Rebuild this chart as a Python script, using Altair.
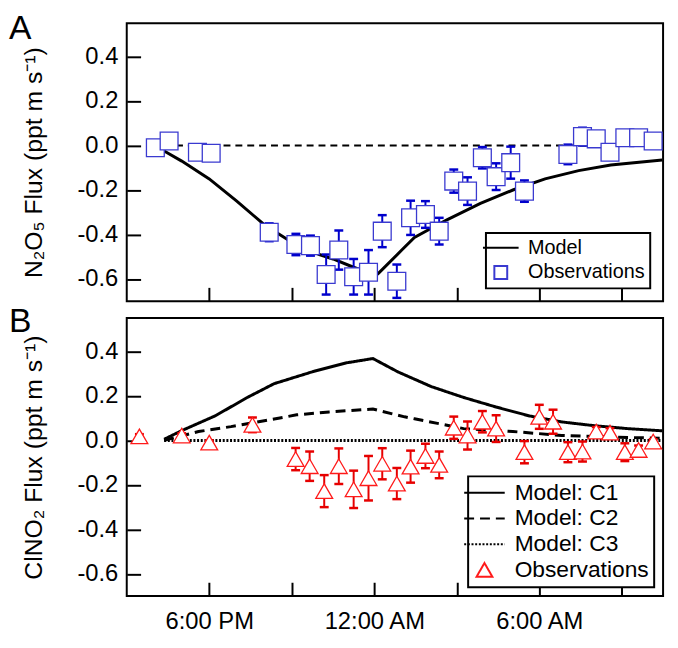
import altair as alt
import pandas as pd

FONT = "Liberation Sans"

# x = hours relative to midnight (negative = previous evening)
X_DOMAIN = [-9.0, 10.5]
Y_DOMAIN = [-0.7, 0.55]
X_TICKS = [-6, -3, 0, 3, 6, 9]
X_LABEL_VALUES = [-6, 0, 6]
X_LABEL_TEXTS = ["6:00 PM", "12:00 AM", "6:00 AM"]
Y_TICKS = [-0.6, -0.4, -0.2, 0.0, 0.2, 0.4]
PANEL_LETTERS = ["A", "B"]

# ---------------- Panel A : N2O5 ----------------
A_MODEL_H = [-7.64, -7.0, -6.0, -5.0, -4.0, -3.0, -2.0, -1.5, -0.8, 0.05, 0.15,
             1.0, 1.46, 2.64, 3.86, 5.04, 6.21, 7.43, 8.6, 10.47]
A_MODEL_V = [-0.025, -0.07, -0.15, -0.25, -0.356, -0.435, -0.49, -0.51, -0.545, -0.585, -0.575,
             -0.47, -0.413, -0.334, -0.26, -0.2, -0.15, -0.113, -0.088, -0.065]
A_ZERO_H = [-7.64, 10.47]
A_ZERO_V = [0.0, 0.0]
A_OBS_H = [-7.96, -7.46, -6.43, -5.93, -3.82, -2.85, -2.32, -1.75, -1.29, -0.75, -0.21,
           0.29, 0.82, 1.32, 1.86, 2.36, 2.89, 3.39, 3.93, 4.43, 4.96, 5.46,
           7.04, 7.57, 8.07, 8.57, 9.11, 9.61, 10.14]
A_OBS_V = [-0.01, 0.02, -0.03, -0.035, -0.39, -0.445, -0.45, -0.58, -0.47, -0.59, -0.57,
           -0.385, -0.61, -0.325, -0.31, -0.385, -0.16, -0.205, -0.055, -0.14, -0.077, -0.205,
           -0.04, 0.04, 0.03, -0.03, 0.035, 0.035, 0.02]
A_OBS_ERR = [0.02, 0.02, 0.02, 0.02, 0.04, 0.048, 0.045, 0.09, 0.088, 0.08, 0.1,
             0.072, 0.075, 0.077, 0.06, 0.06, 0.052, 0.062, 0.048, 0.06, 0.072, 0.048,
             0.044, 0.04, 0.03, 0.03, 0.03, 0.03, 0.03]
A_SERIES = ["Model", "Observations"]

# ---------------- Panel B : ClNO2 ----------------
B_C1_H = [-7.64, -7.0, -5.79, -4.6, -3.64, -2.21, -1.04, -0.05, 0.86, 2.07, 3.25,
          4.43, 5.64, 6.82, 8.0, 9.21, 10.47]
B_C1_V = [0.005, 0.044, 0.11, 0.194, 0.255, 0.31, 0.348, 0.368, 0.308, 0.242, 0.193,
          0.15, 0.11, 0.083, 0.066, 0.053, 0.043]
B_C2_H = [-7.64, -6.39, -5.21, -4.0, -2.82, -1.64, -0.05, 1.1, 1.46, 3.25, 5.04, 6.82, 9.21, 10.47]
B_C2_V = [0.0, 0.04, 0.062, 0.088, 0.115, 0.128, 0.141, 0.106, 0.097, 0.053, 0.04, 0.022, 0.013, 0.01]
B_C3_H = [-7.64, 0.0, 10.47]
B_C3_V = [0.0, 0.0, 0.0]
B_OBS_H = [-8.54, -7.0, -6.0, -4.43, -2.86, -2.35, -1.82, -1.29, -0.75, -0.21, 0.29,
           0.82, 1.32, 1.86, 2.36, 2.89, 3.39, 3.93, 4.43, 5.46, 6.0, 6.5,
           7.04, 7.57, 8.07, 8.57, 9.11, 9.61, 10.14]
B_OBS_V = [0.018, 0.022, -0.01, 0.07, -0.084, -0.116, -0.228, -0.116, -0.22, -0.17, -0.105,
           -0.194, -0.118, -0.07, -0.11, 0.057, 0.022, 0.084, 0.053, -0.053, 0.106, 0.084,
           -0.053, -0.05, 0.04, 0.035, -0.053, -0.043, -0.005]
B_OBS_ERR = [0.01, 0.01, 0.01, 0.033, 0.05, 0.066, 0.072, 0.08, 0.084, 0.1, 0.07,
             0.07, 0.072, 0.055, 0.06, 0.05, 0.063, 0.048, 0.06, 0.05, 0.054, 0.054,
             0.045, 0.045, 0.02, 0.02, 0.04, 0.02, 0.01]
B_SERIES = ["Model: C1", "Model: C2", "Model: C3", "Observations"]

BLUE_BOX = "#3a3ad0"
BLUE_ERR = "#0000cc"
RED_TRI = "#ff1a1a"
RED_ERR = "#e60000"

PLOT_W = 542
PLOT_H_A = 281
PLOT_H_B = 281

# ---------------- data frames ----------------
a_model = pd.DataFrame({"h": A_MODEL_H, "v": A_MODEL_V, "series": "Model"})
a_zero = pd.DataFrame({"h": A_ZERO_H, "v": A_ZERO_V})
a_obs = pd.DataFrame({"h": A_OBS_H, "v": A_OBS_V, "err": A_OBS_ERR, "series": "Observations"})
a_obs["lo"] = a_obs["v"] - a_obs["err"]
a_obs["hi"] = a_obs["v"] + a_obs["err"]

b_model = pd.concat([
    pd.DataFrame({"h": B_C1_H, "v": B_C1_V, "series": "Model: C1"}),
    pd.DataFrame({"h": B_C2_H, "v": B_C2_V, "series": "Model: C2"}),
    pd.DataFrame({"h": B_C3_H, "v": B_C3_V, "series": "Model: C3"}),
], ignore_index=True)
b_obs = pd.DataFrame({"h": B_OBS_H, "v": B_OBS_V, "err": B_OBS_ERR, "series": "Observations"})
b_obs["lo"] = b_obs["v"] - b_obs["err"]
b_obs["hi"] = b_obs["v"] + b_obs["err"]

# ---------------- scales / axes ----------------
xs = alt.Scale(domain=X_DOMAIN, nice=False, zero=False)
ys = alt.Scale(domain=Y_DOMAIN, nice=False, zero=False)

x_label_expr = " : ".join(
    f"datum.value == {v} ? '{t}'" for v, t in zip(X_LABEL_VALUES, X_LABEL_TEXTS)
) + " : ''"
y_label_expr = "datum.value < 0 ? '-' + format(-datum.value, '.1f') : format(datum.value, '.1f')"

INWARD = alt.ExprRef("-14")


def x_axis(show_labels):
    return alt.Axis(values=X_TICKS, title=None, labels=show_labels, labelExpr=x_label_expr,
                    labelPadding=28, labelFlush=False, labelOverlap=False,
                    tickSize=INWARD, tickWidth=2, tickColor="black",
                    domain=False, grid=False, labelFontSize=24, labelFont=FONT,
                    labelColor="black")


def y_axis(title):
    return alt.Axis(values=Y_TICKS, title=title, labelExpr=y_label_expr,
                    labelPadding=23, labelOverlap=False,
                    tickSize=INWARD, tickWidth=2, tickColor="black",
                    domain=False, grid=False, labelFontSize=24, labelFont=FONT,
                    labelColor="black", titleFontSize=25, titleFont=FONT,
                    titleFontWeight="normal", titleColor="black", titlePadding=31)


def legend(offset, size, label_offset, font_size, row_pad, pad):
    return alt.Legend(title=None, orient="bottom-right", offset=offset,
                      symbolSize=size, symbolStrokeWidth=2, labelOffset=label_offset,
                      padding=pad, rowPadding=row_pad, strokeColor="black", fillColor="white",
                      labelFontSize=font_size, labelFont=FONT, labelColor="black",
                      labelLimit=300)


def letter_layer(letter, y_px):
    df = pd.DataFrame({"letter": [letter]})
    return alt.Chart(df).mark_text(align="left", baseline="alphabetic", fontSize=34,
                                   font=FONT, color="black").encode(
        text="letter:N", x=alt.value(-119), y=alt.value(y_px))


# ---------------- panel A ----------------
legA = legend(13, 169, 17.5, 20, 4, 5)
colorA = alt.Color("series:N", scale=alt.Scale(domain=A_SERIES, range=["black", BLUE_BOX]), legend=legA)
shapeA = alt.Shape("series:N", scale=alt.Scale(domain=A_SERIES, range=["M-2.77,0H2.77", "square"]), legend=legA)

zeroA = alt.Chart(a_zero).mark_line(color="black", strokeWidth=2, strokeDash=[7, 5]).encode(
    x=alt.X("h:Q", scale=xs, axis=x_axis(False)),
    y=alt.Y("v:Q", scale=ys, axis=y_axis("N₂O₅ Flux (ppt m s⁻¹)")),
)
modelA = alt.Chart(a_model).mark_line(strokeWidth=3).encode(
    x="h:Q", y="v:Q", color=colorA)
errA = alt.Chart(a_obs).mark_rule(color=BLUE_ERR, strokeWidth=2).encode(
    x="h:Q", y="lo:Q", y2="hi:Q")
capLoA = alt.Chart(a_obs).mark_tick(color=BLUE_ERR, orient="horizontal", size=9, thickness=2.5, opacity=1).encode(
    x="h:Q", y="lo:Q")
capHiA = alt.Chart(a_obs).mark_tick(color=BLUE_ERR, orient="horizontal", size=9, thickness=2.5, opacity=1).encode(
    x="h:Q", y="hi:Q")
ptsA = alt.Chart(a_obs).mark_point(filled=False, fill="white", size=324, strokeWidth=1.3, opacity=1).encode(
    x="h:Q", y="v:Q", color=colorA, shape=shapeA)

chartA = alt.layer(zeroA, modelA, errA, capLoA, capHiA, ptsA,
                   letter_layer(PANEL_LETTERS[0], 16.3)).properties(width=PLOT_W, height=PLOT_H_A)

# ---------------- panel B ----------------
legB = legend(9, 256, 19, 23, 2, 5)
colorB = alt.Color("series:N", scale=alt.Scale(domain=B_SERIES, range=["black", "black", "black", RED_TRI]), legend=legB)
shapeB = alt.Shape("series:N", scale=alt.Scale(domain=B_SERIES, range=["M-2.56,0H2.56"] * 3 + ["triangle-up"]), legend=legB)
dashB = alt.StrokeDash("series:N", scale=alt.Scale(domain=B_SERIES, range=[[1, 0], [10, 6], [2, 1.7], [1, 0]]), legend=legB)

modelB = alt.Chart(b_model).mark_line(strokeWidth=3).encode(
    x=alt.X("h:Q", scale=xs, axis=x_axis(True)),
    y=alt.Y("v:Q", scale=ys, axis=y_axis("ClNO₂ Flux (ppt m s⁻¹)")),
    color=colorB, strokeDash=dashB)
errB = alt.Chart(b_obs).mark_rule(color=RED_ERR, strokeWidth=2).encode(
    x="h:Q", y="lo:Q", y2="hi:Q")
capLoB = alt.Chart(b_obs).mark_tick(color=RED_ERR, orient="horizontal", size=9, thickness=2.5, opacity=1).encode(
    x="h:Q", y="lo:Q")
capHiB = alt.Chart(b_obs).mark_tick(color=RED_ERR, orient="horizontal", size=9, thickness=2.5, opacity=1).encode(
    x="h:Q", y="hi:Q")
ptsB = alt.Chart(b_obs).mark_point(filled=False, fill="white", size=289, strokeWidth=1.3, opacity=1).encode(
    x="h:Q", y="v:Q", color=colorB, shape=shapeB)

chartB = alt.layer(modelB, errB, capLoB, capHiB, ptsB,
                   letter_layer(PANEL_LETTERS[1], 14.3)).properties(width=PLOT_W, height=PLOT_H_B)


def build():
    return alt.vconcat(chartA, chartB, spacing=17, bounds="flush").resolve_scale(
        color="independent", shape="independent", strokeDash="independent"
    ).resolve_legend(
        color="independent", shape="independent", strokeDash="independent"
    ).properties(padding={"left": 0, "top": 0, "right": 0, "bottom": 0}, background="white"
    ).configure_view(stroke="black", strokeWidth=2)


try:
    chart = build().configure_legend(strokeWidth=2)
    chart.to_dict()
except Exception:
    chart = build()

chart.save("out.html", embed_options={"renderer": "svg", "actions": False})
